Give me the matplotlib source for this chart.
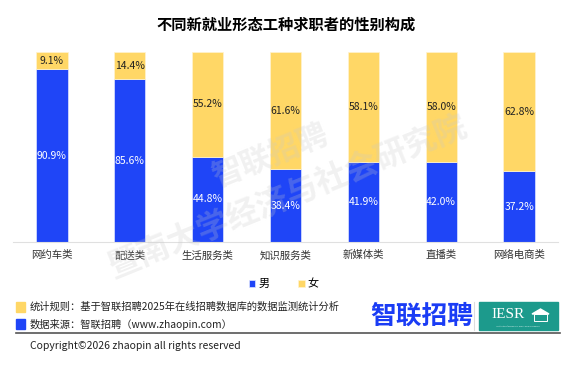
import matplotlib
matplotlib.use("Agg")
import matplotlib.pyplot as plt
import matplotlib.patches as mpatches
import matplotlib.lines as mlines
import numpy as np

plt.rcParams['font.family'] = ['Noto Sans CJK SC', 'DejaVu Sans']

# -----------------------------
# DATA
# -----------------------------
categories = ["网约车类", "配送类", "生活服务类", "知识服务类", "新媒体类", "直播类", "网络电商类"]
male = [90.9, 85.6, 44.8, 38.4, 41.9, 42.0, 37.2]
female = [9.1, 14.4, 55.2, 61.6, 58.1, 58.0, 62.8]

title = "不同新就业形态工种求职者的性别构成"
note_rule = "统计规则：基于智联招聘2025年在线招聘数据库的数据监测统计分析"
note_source = "数据来源：智联招聘（www.zhaopin.com）"
copyright_text = "Copyright©2026 zhaopin all rights reserved"

BLUE = "#1f45f7"
YELLOW = "#ffd766"
W, H = 561, 384


def px(x, y):
    return x / W, 1 - y / H


fig = plt.figure(figsize=(W / 100, H / 100), dpi=100)
ax = fig.add_axes([13 / W, 1 - 242 / H, (558 - 13) / W, (242 - 52) / H])

x = np.arange(len(categories))
b1 = ax.bar(x, male, width=0.4, color=BLUE, edgecolor="#dfe5ff", linewidth=0.5, label="男")
b2 = ax.bar(x, female, width=0.4, bottom=male, color=YELLOW, edgecolor="#fff3d0",
            linewidth=0.5, label="女")

for i in range(len(categories)):
    ax.text(x[i], male[i] / 2, f"{male[i]:.1f}%", ha="center", va="center",
            color="white", fontsize=7.5)
    ax.text(x[i], male[i] + female[i] / 2, f"{female[i]:.1f}%", ha="center", va="center",
            color="#222222", fontsize=7.5)

ax.set_xlim(-0.5, len(categories) - 0.5)
ax.set_ylim(0, 100)
ax.set_yticks([])
ax.set_xticks(x)
ax.set_xticklabels(categories, fontsize=7.5, color="#333333")
ax.tick_params(axis="x", length=0, pad=6)
for s in ["top", "right", "left"]:
    ax.spines[s].set_visible(False)
ax.spines["bottom"].set_color("#e0e0e0")
ax.spines["bottom"].set_linewidth(0.8)

fig.text(*px(286, 25), title, ha="center", va="center", fontsize=11, fontweight="bold")

fig.legend(handles=[b1, b2], loc="center", bbox_to_anchor=px(284, 284), ncol=2,
           frameon=False, fontsize=8, handlelength=0.55, handleheight=0.55,
           handletextpad=0.3, columnspacing=2.6)

# watermark
fig.text(*px(270, 156), "智联招聘", ha="center", va="center", rotation=22,
         fontsize=22, fontweight="bold", color="#c8c8c8", alpha=0.25, zorder=10)
fig.text(*px(288, 197), "暨南大学经济与社会研究院", ha="center", va="center", rotation=22,
         fontsize=23, fontweight="bold", color="#c8c8c8", alpha=0.25, zorder=10)

# footer notes
fig.add_artist(mpatches.Rectangle(px(16, 312), 9 / W, 10 / H, color=YELLOW,
                                  transform=fig.transFigure))
fig.add_artist(mpatches.Rectangle(px(16, 329), 9 / W, 10 / H, color=BLUE,
                                  transform=fig.transFigure))
fig.text(*px(30, 307), note_rule, ha="left", va="center", fontsize=7.4, color="#222222")
fig.text(*px(30, 324), note_source, ha="left", va="center", fontsize=7.4, color="#222222")

# logos
fig.text(*px(422, 316), "智联招聘", ha="center", va="center", fontsize=18.5,
         fontweight="bold", color="#1a3cf5")
fig.add_artist(mlines.Line2D([474 / W, 474 / W], [1 - 330 / H, 1 - 302 / H],
                             color="#dddddd", lw=0.8, transform=fig.transFigure))
fig.add_artist(mpatches.Rectangle(px(479, 330), 79 / W, 28 / H, color="#1c9a8c",
                                  transform=fig.transFigure))
fig.text(*px(508, 315), "IESR", ha="center", va="center", fontsize=11,
         family="Liberation Serif", color="white")
fig.text(*px(518, 326), "Institute of Economic and Social Research", ha="center",
         va="center", fontsize=1.6, color="#d8efec")
fig.add_artist(mpatches.Rectangle(px(534, 321), 13 / W, 7 / H, facecolor="none",
                                  edgecolor="white", lw=0.7, transform=fig.transFigure))
fig.add_artist(mpatches.Polygon([px(532, 314), px(540.5, 309), px(549, 314)],
                                closed=True, color="white", transform=fig.transFigure))

fig.add_artist(mlines.Line2D([16 / W, 560 / W], [1 - 333 / H, 1 - 333 / H],
                             color="#555555", lw=1.2, transform=fig.transFigure))
fig.text(*px(30, 346), copyright_text, ha="left", va="center", fontsize=7.5, color="#222222")

fig.savefig("out.png", dpi=100)
